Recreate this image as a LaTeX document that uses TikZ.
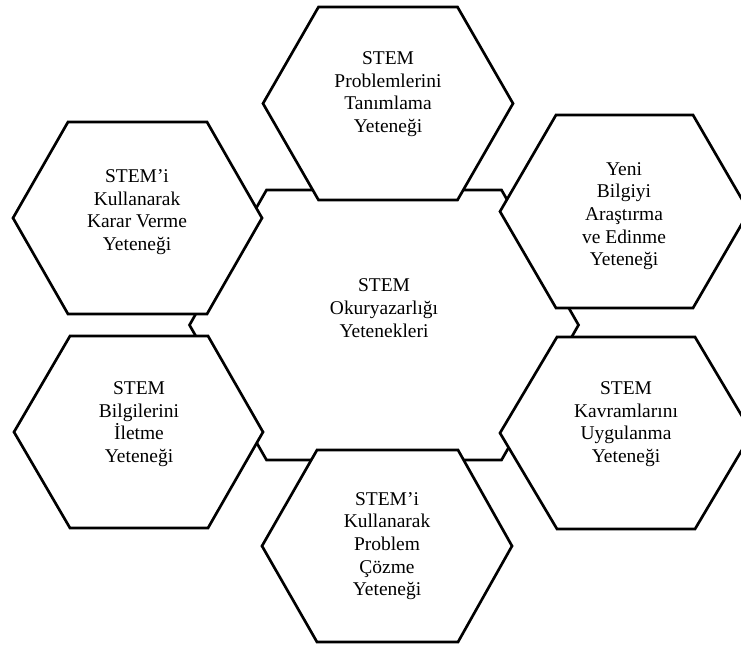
\documentclass[tikz,border=0pt]{standalone}
\usepackage{fontspec}
\setmainfont{Liberation Serif}

\begin{document}
\begin{tikzpicture}[x=0.75pt,y=-0.75pt,
  cell/.style={draw=black,fill=white,line width=2pt,line join=miter},
  label/.style={align=center,font=\fontsize{14.6}{17}\selectfont,inner sep=0pt}]
\useasboundingbox (0,0) rectangle (741,646);
\clip (0,0) rectangle (741,646);

% central hexagon
\filldraw[cell] (189.5,325) -- (266.5,190) -- (501.5,190) -- (578.5,325)
  -- (501.5,460) -- (266.5,460) -- cycle;

% surrounding hexagons, drawn on top of the central one
\filldraw[cell] (263,103.5) -- (318.5,7) -- (457.5,7) -- (513,103.5) -- (457.5,200) -- (318.5,200) -- cycle;
\filldraw[cell] (13,218) -- (68,122) -- (207,122) -- (262,218) -- (207,314) -- (68,314) -- cycle;
\filldraw[cell] (500,211.5) -- (556,115) -- (693,115) -- (749,211.5) -- (693,308) -- (556,308) -- cycle;
\filldraw[cell] (14,432) -- (70,336) -- (208,336) -- (263,432) -- (208,528) -- (70,528) -- cycle;
\filldraw[cell] (500,433) -- (557,337) -- (695,337) -- (752,433) -- (695,529) -- (557,529) -- cycle;
\filldraw[cell] (262,546) -- (317,450) -- (458,450) -- (512,546) -- (458,642) -- (317,642) -- cycle;

% labels
\node[label] (core) at (384,308) {STEM\\Okuryazarlığı\\Yetenekleri};
\node[label] (tanim) at (388,94) {STEM\\Problemlerini\\Tanımlama\\Yeteneği};
\node[label] (karar) at (137,212) {STEM’i\\Kullanarak\\Karar Verme\\Yeteneği};
\node[label] (bilgi) at (624,216) {Yeni\\Bilgiyi\\Araştırma\\ve Edinme\\Yeteneği};
\node[label] (ilet) at (139,424) {STEM\\Bilgilerini\\İletme\\Yeteneği};
\node[label] (kavram) at (626,424) {STEM\\Kavramlarını\\Uygulanma\\Yeteneği};
\node[label] (cozum) at (387,546) {STEM’i\\Kullanarak\\Problem\\Çözme\\Yeteneği};
\end{tikzpicture}
\end{document}
